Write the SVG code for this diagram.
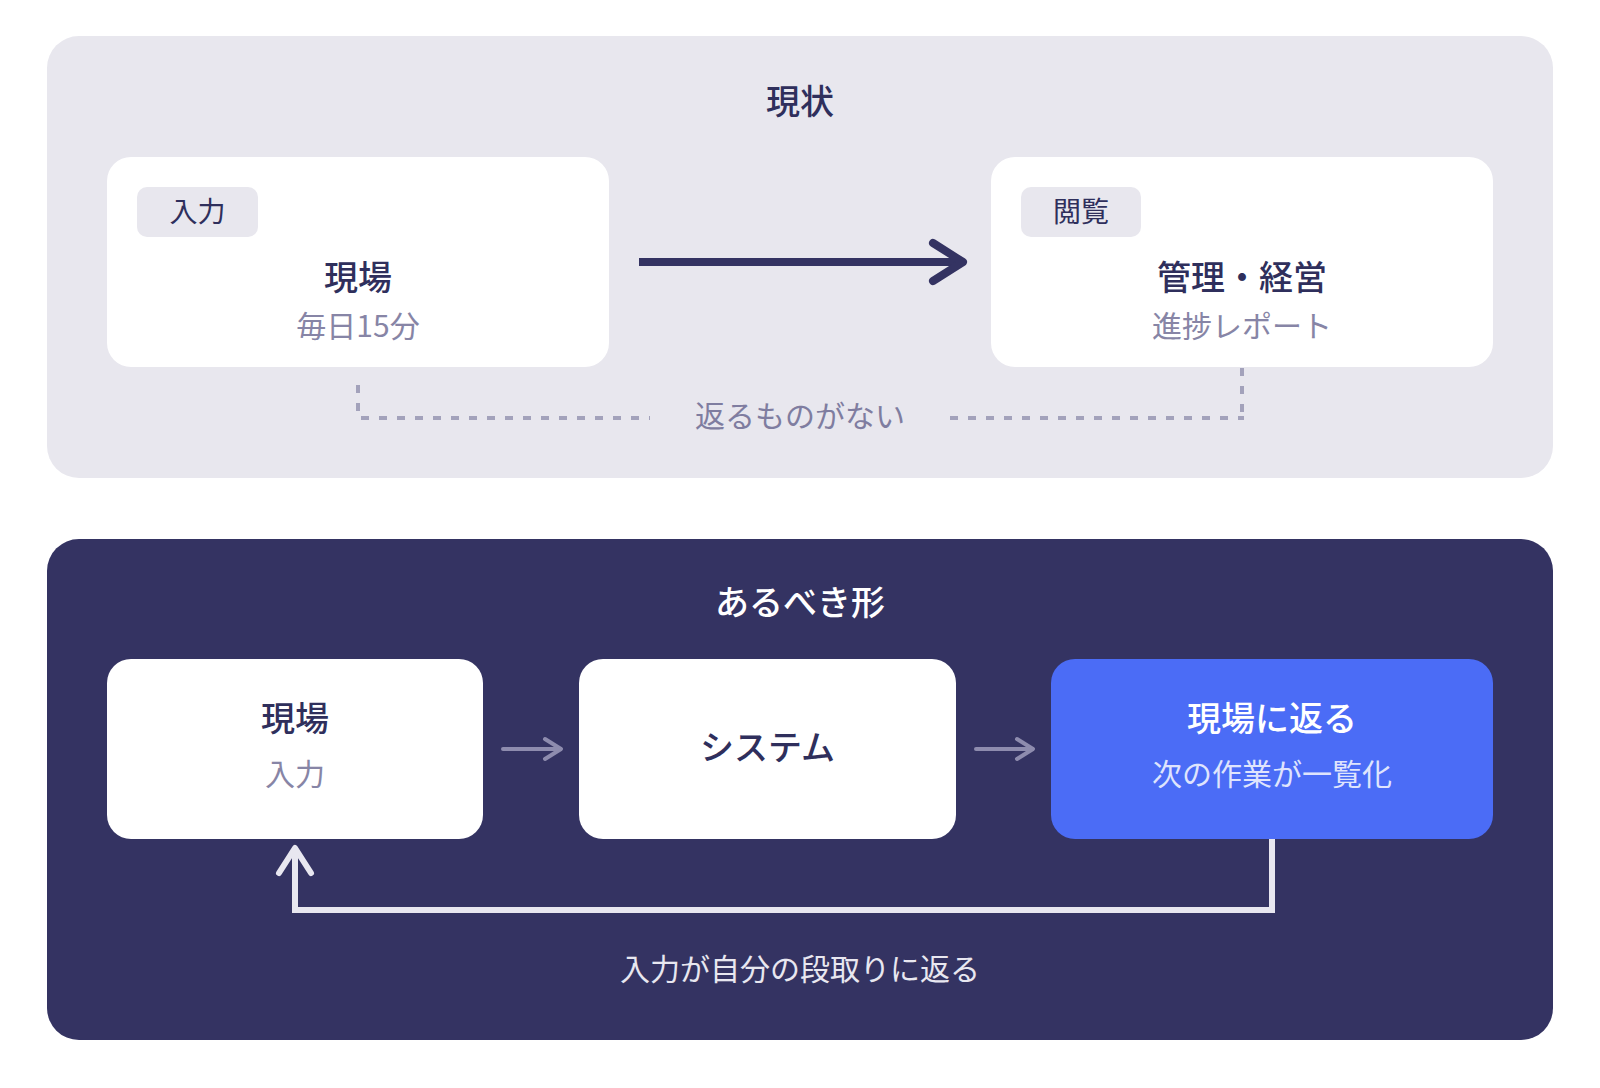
<svg xmlns="http://www.w3.org/2000/svg" width="1600" height="1088" viewBox="0 0 1600 1088">
<style>
  text { font-family: "Noto Sans CJK JP", "Noto Sans", sans-serif; text-anchor: middle; dominant-baseline: central; }
  .sec { font-size: 34px; font-weight: 500; }
  .title { font-size: 34px; font-weight: 500; fill: #2f2f5c; }
  .sub { font-size: 30px; font-weight: 400; fill: #8785a6; }
  .tag { font-size: 28px; font-weight: 400; fill: #2f2f5c; }
  .card { fill: #ffffff; }
  .tagbg { fill: #e8e7ee; }
  .dash { fill: none; stroke: #a3a2bb; stroke-width: 4; stroke-dasharray: 8 10; }
  .small { fill: none; stroke: #8e8cae; stroke-width: 4; stroke-linecap: round; stroke-linejoin: round; }
</style>
<rect width="1600" height="1088" fill="#ffffff"/>

<g id="panel-current">
  <rect x="47" y="36" width="1506" height="442" rx="32" fill="#e8e7ee"/>
  <text class="sec" x="800" y="99" fill="#2f2f5c">現状</text>
</g>

<g id="panel-ideal">
  <rect x="47" y="539" width="1506" height="501" rx="32" fill="#343362"/>
  <text class="sec" x="800" y="600" fill="#ffffff">あるべき形</text>
</g>

<g id="connectors">
  <path d="M358 385 V418 H650" class="dash"/>
  <path d="M1242 368 V414" class="dash"/>
  <path d="M950 418 H1244" class="dash"/>
  <text x="800" y="414" style="font-size:30px" fill="#7f7da0">返るものがない</text>
  <path d="M639 262 H960" fill="none" stroke="#343362" stroke-width="8"/>
  <path d="M933 243 L963 262 L933 281" fill="none" stroke="#343362" stroke-width="8" stroke-linecap="round" stroke-linejoin="round"/>
  <path d="M503 749 H560 M545 739 L561 749 L545 759" class="small"/>
  <path d="M976 749 H1032 M1017 739 L1033 749 L1017 759" class="small"/>
  <path d="M1272 839 V910 H295 V850" fill="none" stroke="#e8e7f0" stroke-width="6"/>
  <path d="M279 873 L295 848 L311 873" fill="none" stroke="#e8e7f0" stroke-width="6" stroke-linecap="round" stroke-linejoin="round"/>
  <text x="800" y="967" style="font-size:30px" fill="#e8e7f0">入力が自分の段取りに返る</text>
</g>

<g id="node-genba-input">
  <rect class="card" x="107" y="157" width="502" height="210" rx="24"/>
  <rect class="tagbg" x="137" y="187" width="121" height="50" rx="10"/>
  <text class="tag" x="197.5" y="210">入力</text>
  <text class="title" x="358" y="275">現場</text>
  <text class="sub" x="358" y="324">毎日15分</text>
</g>

<g id="node-management">
  <rect class="card" x="991" y="157" width="502" height="210" rx="24"/>
  <rect class="tagbg" x="1021" y="187" width="120" height="50" rx="10"/>
  <text class="tag" x="1081" y="210">閲覧</text>
  <text class="title" x="1242" y="275">管理・経営</text>
  <text class="sub" x="1242" y="324">進捗レポート</text>
</g>

<g id="node-genba">
  <rect class="card" x="107" y="659" width="376" height="180" rx="24"/>
  <text class="title" x="295" y="716">現場</text>
  <text class="sub" x="295" y="772">入力</text>
</g>

<g id="node-system">
  <rect class="card" x="579" y="659" width="377" height="180" rx="24"/>
  <text class="title" x="767.5" y="745">システム</text>
</g>

<g id="node-return">
  <rect x="1051" y="659" width="442" height="180" rx="24" fill="#4b6cf6"/>
  <text class="title" x="1272" y="716" style="fill:#ffffff">現場に返る</text>
  <text class="sub" x="1272" y="772" style="fill:#dfe4fd">次の作業が一覧化</text>
</g>
</svg>
